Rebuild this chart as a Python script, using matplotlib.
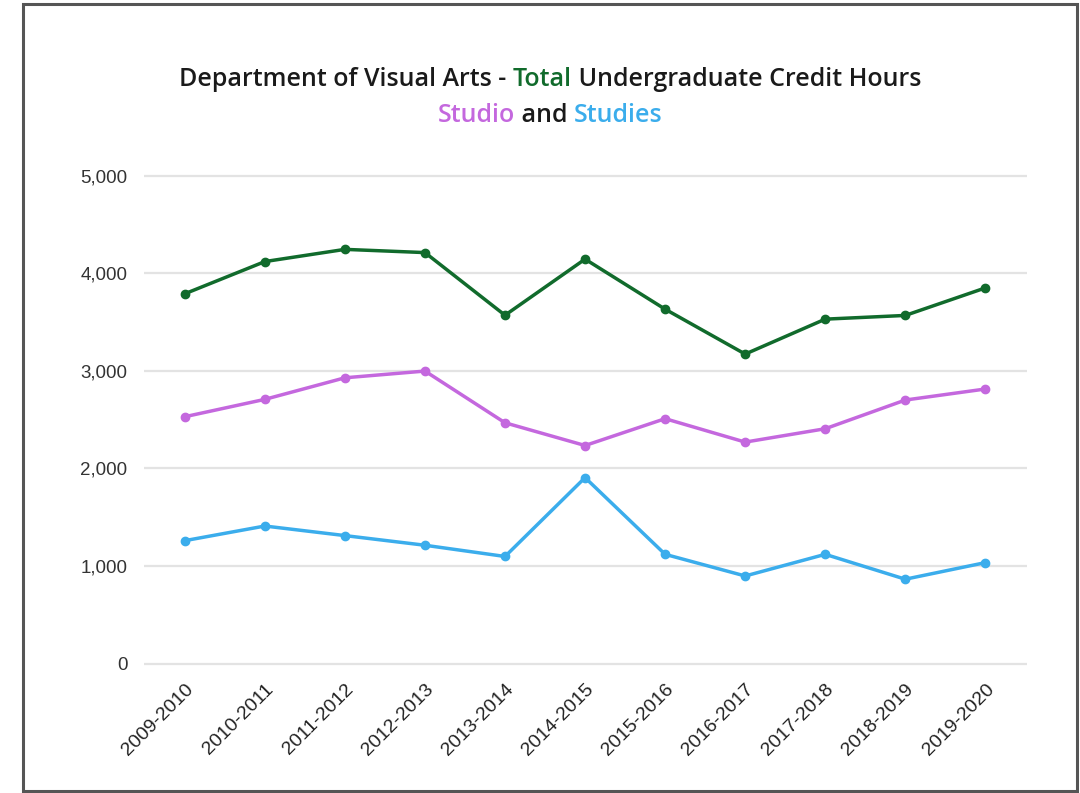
import matplotlib
matplotlib.use("Agg")
import matplotlib.pyplot as plt
from matplotlib.patches import Rectangle

years = ["2009-2010", "2010-2011", "2011-2012", "2012-2013", "2013-2014", "2014-2015",
         "2015-2016", "2016-2017", "2017-2018", "2018-2019", "2019-2020"]
total = [3790, 4120, 4245, 4212, 3570, 4145, 3632, 3172, 3530, 3568, 3850]
studio = [2530, 2708, 2929, 2998, 2468, 2235, 2510, 2270, 2407, 2701, 2814]
studies = [1260, 1410, 1312, 1213, 1098, 1906, 1120, 898, 1120, 865, 1035]

green = "#116b2c"
purple = "#c468de"
blue = "#3badec"

fig = plt.figure(figsize=(10.8, 7.93), dpi=100)
ax = fig.add_axes([0.1333, 0.157, 0.8176, 0.6276])

x = range(len(years))
for vals, c in [(total, green), (studio, purple), (studies, blue)]:
    ax.plot(x, vals, color=c, lw=2.5, marker="o", ms=6, zorder=3)

ax.set_xlim(-0.51, 10.52)
ax.set_ylim(-50, 5050)
ax.set_yticks([0, 1000, 2000, 3000, 4000, 5000])
ax.set_yticklabels(["0", "1,000", "2,000", "3,000", "4,000", "5,000"],
                   fontfamily="Liberation Sans", fontsize=13.5, color="#333333")
ax.set_xticks(list(x))
ax.set_xticklabels(years, rotation=45, ha="right", rotation_mode="anchor",
                   fontfamily="Liberation Sans", fontsize=14, color="#222222")
ax.tick_params(length=0, pad=12)
ax.tick_params(axis="x", pad=9)
ax.grid(axis="y", color="#e3e3e3", lw=1.6)
ax.set_axisbelow(True)
for s in ax.spines.values():
    s.set_visible(False)

# frame around the chart
fig.patches.append(Rectangle((23 / 1080, 1 - 791 / 793), (1077 - 23) / 1080, (791 - 4) / 793,
                             transform=fig.transFigure, fill=False, ec="#555555", lw=2.2))

# multi-coloured title
def colored_line(parts, y, size):
    fig.canvas.draw()
    r = fig.canvas.get_renderer()
    texts = [fig.text(0, y, s, color=c, fontsize=size, fontfamily="Open Sans",
                      fontweight="semibold", va="center") for s, c in parts]
    widths = [t.get_window_extent(r).width for t in texts]
    start = 550 - sum(widths) / 2
    for t, w in zip(texts, widths):
        t.set_x(start / 1080)
        start += w

colored_line([("Department of Visual Arts - ", "#1a1a1a"), ("Total", green),
              (" Undergraduate Credit Hours", "#1a1a1a")], 1 - 80 / 793, 18)
colored_line([("Studio", purple), (" and ", "#1a1a1a"), ("Studies", blue)], 1 - 115 / 793, 18)

fig.savefig("out.png", dpi=100)
